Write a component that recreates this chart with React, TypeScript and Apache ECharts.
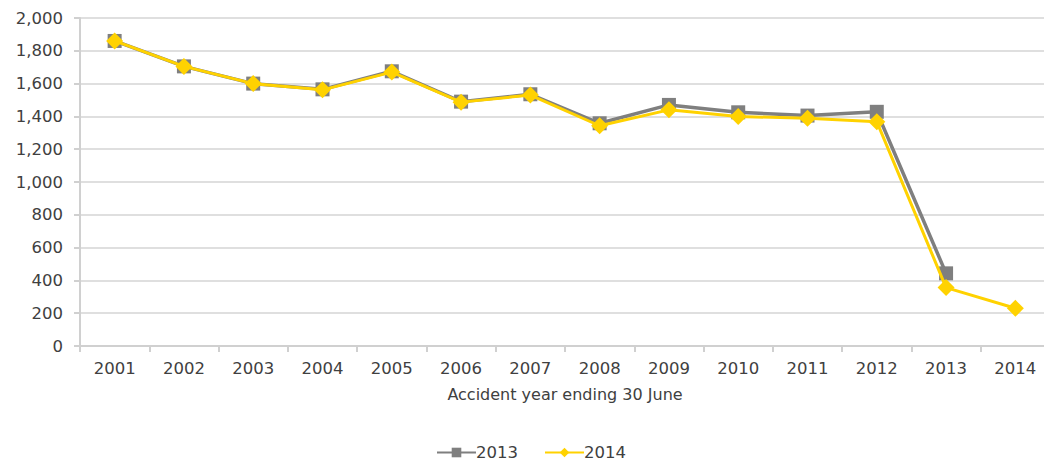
import React, { useEffect, useRef } from "react";
import * as echarts from "echarts";

const years = ["2001","2002","2003","2004","2005","2006","2007","2008","2009","2010","2011","2012","2013","2014"];
const series2013 = [1860, 1705, 1600, 1565, 1675, 1490, 1535, 1358, 1470, 1425, 1405, 1428, 443, null];
const series2014 = [1860, 1705, 1600, 1562, 1670, 1487, 1530, 1343, 1440, 1400, 1388, 1368, 356, 230];
const axisTitle = "Accident year ending 30 June";

export default function App() {
  const ref = useRef<HTMLDivElement>(null);
  useEffect(() => {
    if (!ref.current) return;
    document.documentElement.style.overflow = "hidden";
    document.body.style.overflow = "hidden";
    const chart = echarts.init(ref.current, undefined, { renderer: "svg" });
    const font = "DejaVu Sans";
    chart.setOption({
      animation: false,
      backgroundColor: "#ffffff",
      grid: { left: 80, top: 18, width: 970, height: 328, containLabel: false },
      legend: {
        top: 444,
        left: 436,
        padding: 0,
        itemWidth: 39,
        itemHeight: 12,
        itemGap: 26,
        textStyle: { fontFamily: font, fontSize: 16.5, color: "#404040", padding: [0, 0, 0, -5] },
        data: [
          { name: "2013", itemStyle: { color: "#7f7f7f" } },
          { name: "2014", itemStyle: { color: "#ffd200" } },
        ],
      },
      xAxis: {
        type: "category",
        data: years,
        boundaryGap: true,
        name: axisTitle,
        nameLocation: "middle",
        nameGap: 40,
        nameTextStyle: { fontFamily: font, fontSize: 16, color: "#404040" },
        axisLine: { lineStyle: { color: "#d0d0d0", width: 2 } },
        axisTick: { show: true, length: 6, lineStyle: { color: "#d0d0d0", width: 2 } },
        axisLabel: { fontFamily: font, fontSize: 16.5, color: "#404040", margin: 14 },
      },
      yAxis: {
        type: "value",
        min: 0,
        max: 2000,
        interval: 200,
        axisLine: { show: true, lineStyle: { color: "#d0d0d0", width: 2 } },
        axisTick: { show: true, length: 6, lineStyle: { color: "#d0d0d0", width: 2 } },
        axisLabel: {
          fontFamily: font,
          fontSize: 16.5,
          color: "#404040",
          margin: 17,
          formatter: (v: number) => v.toLocaleString("en-US"),
        },
        splitLine: { lineStyle: { color: "#d4d4d4", width: 1.5 } },
      },
      series: [
        {
          name: "2013",
          type: "line",
          data: series2013,
          symbol: "rect",
          symbolSize: 14,
          lineStyle: { color: "#7f7f7f", width: 3.5 },
          itemStyle: { color: "#7f7f7f" },
          z: 2,
        },
        {
          name: "2014",
          type: "line",
          data: series2014,
          symbol: "diamond",
          symbolSize: 17,
          lineStyle: { color: "#ffd200", width: 3 },
          itemStyle: { color: "#ffd200" },
          z: 3,
        },
      ],
    });
    return () => chart.dispose();
  }, []);
  return (
    <div
      ref={ref}
      style={{ position: "fixed", left: 0, top: 0, width: 1062, height: 461 }}
    />
  );
}
